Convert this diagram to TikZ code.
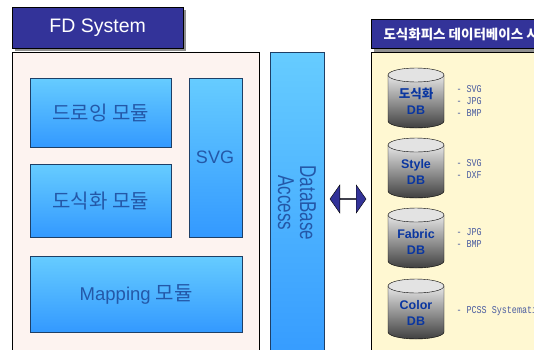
\documentclass[tikz,border=0pt]{standalone}
\usepackage{fontspec}
\setmainfont{Liberation Sans}
\newfontfamily\kr{Noto Sans CJK KR}
\newfontfamily\lab[FakeStretch=0.8]{Liberation Mono}
\newcommand\krbig{\kr\fontsize{20}{22}\selectfont}
\usetikzlibrary{shapes.arrows}
\definecolor{titlebg}{HTML}{333399}
\definecolor{mainbg}{HTML}{FDF3F0}
\definecolor{rightbg}{HTML}{FFF8D2}
\definecolor{boxtop}{HTML}{66CCFF}
\definecolor{boxbot}{HTML}{3399FF}
\definecolor{boxedge}{HTML}{1E3F66}
\definecolor{modtext}{HTML}{2458A8}
\definecolor{dbtext}{HTML}{0A36A0}
\definecolor{labtext}{HTML}{4A5CA0}
\definecolor{shadowc}{HTML}{909090}
\tikzset{
  titlebox/.style={draw=black, fill=titlebg, inner sep=0pt, anchor=north west},
  panel/.style={draw=black, inner sep=0pt, anchor=north west},
  module/.style={draw=boxedge, top color=boxtop, bottom color=boxbot, text=modtext,
     inner sep=0pt, anchor=north west, font=\fontsize{18.5}{21}\selectfont},
  cylbody/.style={draw=black, top color=gray!20, bottom color=gray!50!black},
  cyltop/.style={draw=black, fill=gray!22},
  dblabel/.style={text=dbtext, font=\bfseries\fontsize{12.5}{16}\selectfont, align=center},
  smalllab/.style={text=labtext, anchor=west, align=left, font=\lab\fontsize{10.5}{12}\selectfont},
}
\begin{document}
\begin{tikzpicture}[x=1pt,y=-1pt]
\useasboundingbox (0,0) rectangle (534,349);
\clip (0,0) rectangle (534,349);
% left panel
\node[panel, fill=mainbg, minimum width=247pt, minimum height=320pt] (leftpanel) at (12,52) {};
\fill[shadowc] (15,10) rectangle (186,51);
\node[titlebox, minimum width=171pt, minimum height=41pt, text=white,
  font=\fontsize{19.5}{22}\selectfont] (fdtitle) at (12,7) {FD System};
% modules
\node[module, minimum width=141pt, minimum height=69pt] (draw) at (30,78) {{\krbig 드로잉 모듈}};
\node[module, minimum width=141pt, minimum height=73pt] (diag) at (30,164) {{\krbig 도식화 모듈}};
\node[module, minimum width=53pt, minimum height=159pt] (svg) at (189,78) {};
\node[text=modtext, font=\fontsize{18}{21}\selectfont] (svgtext) at (215,157) {SVG};
\node[module, minimum width=212pt, minimum height=76pt] (map) at (30,256) {Mapping {\krbig 모듈}};
% DB access bar
\node[module, minimum width=54pt, minimum height=320pt] (dbacc) at (270,52) {};
\node[text=modtext, rotate=-90, align=center, font=\fontsize{17}{18}\selectfont] (dbacctext) at (297,203)
  {\scalebox{1}[1.35]{DataBase}\\[4pt]\scalebox{1}[1.35]{Access}};
% right panel
\node[panel, fill=rightbg, minimum width=200pt, minimum height=320pt] (rightpanel) at (371,52) {};
\fill[shadowc] (374,22) rectangle (560,51.5);
\node[titlebox, minimum width=190pt, minimum height=29pt] (rtitle) at (371,19) {};
\node[anchor=west, text=white, font=\kr\bfseries\fontsize{13.5}{15}\selectfont] (rtitletext) at (380,34) {도식화피스 데이터베이스 시스템};
% arrow
\node[double arrow, draw=black, fill=titlebg, minimum width=28pt, minimum height=36pt,
  double arrow head extend=8pt, double arrow tip angle=110, inner sep=0pt] (arr) at (348,199) {};
% cylinders
\foreach \t in {68,138,208,279}{
  \path[cylbody] (388,\t+7) -- (388,\t+53) arc[start angle=180, end angle=0, x radius=28, y radius=7] -- (444,\t+7) -- cycle;
  \draw[cyltop] (416,\t+7) ellipse[x radius=28, y radius=7];
}
\node[dblabel] (db1) at (416,101.5) {{\kr\bfseries 도식화}\\DB};
\node[dblabel] (db2) at (416,171.5) {Style\\DB};
\node[dblabel] (db3) at (416,241.5) {Fabric\\DB};
\node[dblabel] (db4) at (416,312.5) {Color\\DB};
\node[smalllab] (l1) at (453,101) {- SVG\\- JPG\\- BMP};
\node[smalllab] (l2) at (453,169) {- SVG\\- DXF};
\node[smalllab] (l3) at (453,237.5) {- JPG\\- BMP};
\node[smalllab] (l4) at (453,311) {- PCSS Systematic};
\end{tikzpicture}
\end{document}
